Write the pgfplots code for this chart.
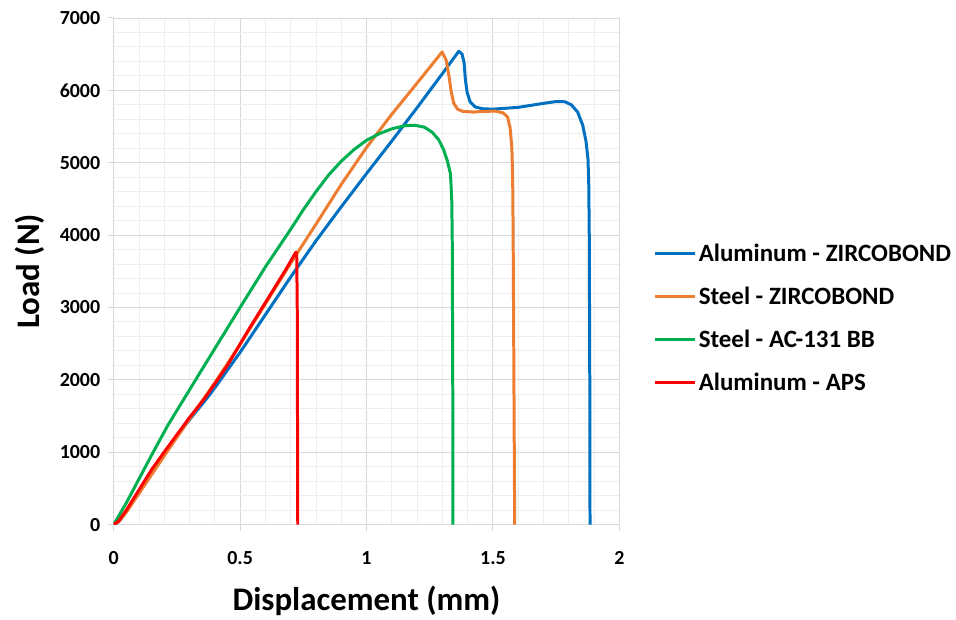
\documentclass[border=0pt]{standalone}
\usepackage{pgfplots}
\pgfplotsset{compat=1.18}
\usepackage{fontspec}
\setmainfont{Carlito}
\definecolor{cblue}{HTML}{0070C0}
\definecolor{corange}{HTML}{ED7D31}
\definecolor{cgreen}{HTML}{00B050}
\definecolor{cred}{HTML}{FF0000}
\definecolor{gmaj}{HTML}{D9D9D9}
\definecolor{gmin}{HTML}{EEEEEE}
\begin{document}
\begin{tikzpicture}
\begin{axis}[
  at={(0pt,0pt)}, anchor=south west,
  scale only axis, width=507pt, height=508pt,
  xmin=0, xmax=2, ymin=0, ymax=7000,
  xtick={0,0.5,1,1.5,2}, ytick={0,1000,...,7000},
  xticklabels={0,0.5,1,1.5,2},
  scaled y ticks=false,
  /pgf/number format/assume math mode=true,
  yticklabel={\pgfmathprintnumber[fixed,1000 sep={}]{\tick}},
  minor x tick num=4, minor y tick num=4,
  grid=both,
  major grid style={gmaj, line width=0.9pt},
  minor grid style={gmin, line width=0.9pt},
  axis x line*=bottom, axis y line*=left,
  axis line style={gmaj, line width=1pt, -},
  tick align=outside, major tick length=6pt, minor tick length=0pt,
  tick style={gmaj, line width=1pt},
  ticklabel style={font=\fontsize{20}{24}\selectfont\bfseries},
  xticklabel style={yshift=-17pt},
  yticklabel style={xshift=-4pt},
  xlabel={Displacement (mm)}, ylabel={Load (N)},
  label style={font=\fontsize{33}{38}\selectfont\bfseries},
  xlabel style={yshift=-15pt},
  ylabel style={yshift=8pt},
  legend style={at={(1.062,0.4075)}, anchor=west, draw=none, fill=none,
    font=\fontsize{25}{29}\selectfont\bfseries, row sep=20pt},
  legend cell align=left,
  legend image code/.code={\draw[#1, line width=3pt] (0pt,0pt) -- (40pt,0pt);},
]
\addplot[cblue, line width=3pt, line join=round] coordinates {
(0,0) (0.02,40) (0.05,180) (0.1,450) (0.2,990) (0.3,1450) (0.372,1760)
(0.4,1890) (0.5,2380) (0.6,2900) (0.7,3420) (0.8,3920) (0.9,4390)
(1.0,4850) (1.1,5300) (1.2,5760) (1.3,6230) (1.365,6540) (1.378,6500)
(1.386,6380) (1.391,6150) (1.398,5970) (1.41,5840) (1.43,5770) (1.46,5745) (1.5,5740)
(1.6,5765) (1.7,5820) (1.75,5845) (1.785,5842) (1.81,5800) (1.835,5700)
(1.855,5520) (1.868,5300) (1.876,5050) (1.879,4700) (1.881,4000) (1.883,2000) (1.884,0)
};
\addlegendentry{Aluminum - ZIRCOBOND}
\addplot[corange, line width=3pt, line join=round] coordinates {
(0,0) (0.02,40) (0.05,170) (0.1,430) (0.2,950) (0.3,1460) (0.4,1960)
(0.5,2490) (0.6,3050) (0.7,3610) (0.8,4150) (0.9,4700) (1.0,5210)
(1.1,5670) (1.2,6100) (1.299,6530) (1.315,6420) (1.326,6200) (1.335,5980) (1.345,5820)
(1.36,5740) (1.38,5710) (1.42,5700) (1.47,5710) (1.51,5712) (1.54,5690) (1.558,5630)
(1.568,5480) (1.575,5200) (1.578,4800) (1.580,4000) (1.583,2000) (1.586,0)
};
\addlegendentry{Steel - ZIRCOBOND}
\addplot[cgreen, line width=3pt, line join=round] coordinates {
(0,0) (0.05,300) (0.1,630) (0.15,960) (0.214,1371) (0.339,2085) (0.5,3000)
(0.6,3560) (0.7,4080) (0.75,4350) (0.8,4600) (0.85,4830) (0.9,5020)
(0.95,5180) (1.0,5310) (1.05,5400) (1.1,5468) (1.15,5510) (1.19,5518)
(1.23,5490) (1.26,5420) (1.285,5320) (1.305,5180) (1.32,5020) (1.332,4850)
(1.337,4500) (1.339,4000) (1.341,2000) (1.342,0)
};
\addlegendentry{Steel - AC-131 BB}
\addplot[cred, line width=3pt, line join=round] coordinates {
(0,0) (0.02,50) (0.05,200) (0.1,480) (0.15,760) (0.2,1004) (0.3,1480)
(0.359,1740) (0.45,2200) (0.536,2707) (0.62,3180) (0.68,3520) (0.721,3766)
(0.724,3700) (0.726,3000) (0.727,1500) (0.728,0)
};
\addlegendentry{Aluminum - APS}
\end{axis}
\path[use as bounding box] (-114pt,-89pt) rectangle (842pt,526pt);
\end{tikzpicture}
\end{document}
